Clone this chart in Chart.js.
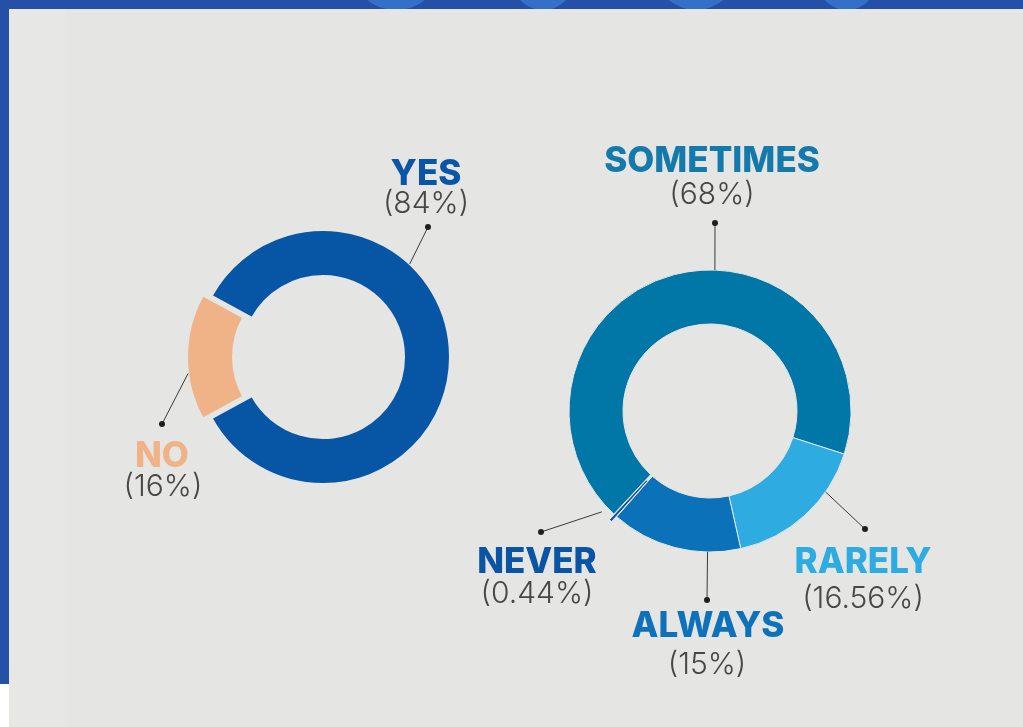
<!DOCTYPE html>
<html>
<head>
<meta charset="utf-8">
<script src="https://cdn.jsdelivr.net/npm/chart.js@4"></script>
<style>
  html, body { margin: 0; padding: 0; }
  body { width: 1023px; height: 727px; position: relative; overflow: hidden; background: #ffffff; }
  .panel { position: absolute; left: 9px; top: 0; width: 1014px; height: 727px; background: #e5e5e3; }
  .band { position: absolute; left: 9px; top: 0; width: 57px; height: 727px; background: #e7e7e6; }
  .topbar { position: absolute; left: 0; top: 0; width: 1023px; height: 9px; background: #2450a6; overflow: hidden; }
  .sidebar { position: absolute; left: 0; top: 0; width: 9px; height: 684px; background: #2450a6; }
  .dot { position: absolute; border-radius: 50%; background: #3470c8; }
  canvas { position: absolute; }
</style>
</head>
<body>
<div class="panel"></div>
<div class="band"></div>
<div class="sidebar"></div>
<div class="topbar">
  <div class="dot" style="left:349px; top:-84px; width:94px; height:94px;"></div>
  <div class="dot" style="left:512px; top:-52px; width:62px; height:62px;"></div>
  <div class="dot" style="left:650px; top:-92px; width:92px; height:102px;"></div>
  <div class="dot" style="left:815px; top:-60px; width:64px; height:70px;"></div>
</div>
<canvas id="answerChart" width="446" height="454" style="left:100px; top:130px;"></canvas>
<canvas id="freqChart" width="500" height="622" style="left:460px; top:100px;"></canvas>

<script>
// first question: yes / no
const answerLabels = ['YES', 'NO'];
const answerValues = [84, 16];
const answerColors = ['#0656a5', '#f0b287'];
const answerTextColors = ['#0a55a5', '#f0b287'];

// second question: how often
const freqLabels = ['SOMETIMES', 'RARELY', 'ALWAYS', 'NEVER'];
const freqValues = [68, 16.56, 15, 0.44];
const freqColors = ['#0177a7', '#2eace2', '#0b71b9', '#0c51a2'];
const freqTextColors = ['#147aab', '#2eace2', '#0d72b9', '#0a54a4'];

const bgColor = '#e5e5e3';
const titleFont = '800 35px Inter, "Open Sans", sans-serif';
const pctFont = '300 30px Inter, "Open Sans", sans-serif';

// how far chart.js actually pushes an arc out for a given offset option
function arcShift(arc) {
  const off = (arc.options.offset || 0) / 4;
  const fix = 1 - Math.sin(Math.min(Math.PI, arc.circumference || 0));
  return off * (1 + fix);
}

// leader line + dot + two-line label for every slice
const calloutPlugin = {
  id: 'callouts',
  afterDatasetsDraw(chart, args, opts) {
    const ctx = chart.ctx;
    const meta = chart.getDatasetMeta(0);
    const ds = chart.data.datasets[0];
    meta.data.forEach((arc, i) => {
      const item = opts.items[i];
      if (!item) return;
      const cx = arc.x, cy = arc.y;
      const a = item.angle * Math.PI / 180;
      const r = arc.outerRadius + arcShift(arc);
      const ax = cx + r * Math.sin(a);
      const ay = cy - r * Math.cos(a);
      const dx = cx + item.dot[0];
      const dy = cy + item.dot[1];

      ctx.save();
      ctx.strokeStyle = '#3a3a3a';
      ctx.lineWidth = 1;
      ctx.beginPath();
      ctx.moveTo(ax, ay);
      ctx.lineTo(dx, dy);
      ctx.stroke();
      ctx.fillStyle = '#1f1f1f';
      ctx.beginPath();
      ctx.arc(dx, dy, 3, 0, Math.PI * 2);
      ctx.fill();

      ctx.textAlign = 'center';
      ctx.textBaseline = 'alphabetic';
      ctx.font = titleFont;
      ctx.fillStyle = opts.textColors[i];
      ctx.fillText(chart.data.labels[i], cx + item.title[0], cy + item.title[1]);
      ctx.font = pctFont;
      ctx.fillStyle = '#474747';
      ctx.fillText('(' + ds.data[i] + '%)', cx + item.pct[0], cy + item.pct[1]);
      ctx.restore();
    });
  }
};

Chart.register(calloutPlugin);

const baseOptions = {
  responsive: false,
  animation: false,
  events: [],
  devicePixelRatio: 1
};

new Chart(document.getElementById('answerChart'), {
  type: 'doughnut',
  data: {
    labels: answerLabels,
    datasets: [{
      data: answerValues,
      backgroundColor: answerColors,
      borderColor: bgColor,
      borderWidth: 2,
      offset: [0, 31]
    }]
  },
  options: Object.assign({}, baseOptions, {
    radius: 127,
    cutout: '63.8%',
    rotation: -61.2,
    plugins: {
      legend: { display: false },
      tooltip: { enabled: false },
      callouts: {
        textColors: answerTextColors,
        items: [
          { angle: 43, dot: [105, -130], title: [103, -172], pct: [103, -144] },
          { angle: 263, dot: [-161, 67], title: [-161, 110], pct: [-160, 139] }
        ]
      }
    }
  })
});

new Chart(document.getElementById('freqChart'), {
  type: 'doughnut',
  data: {
    labels: freqLabels,
    datasets: [{
      data: freqValues,
      backgroundColor: freqColors,
      borderColor: bgColor,
      borderWidth: 1,
      offset: [0, 0, 0, 14]
    }]
  },
  options: Object.assign({}, baseOptions, {
    radius: 141,
    cutout: '61.7%',
    rotation: -137,
    plugins: {
      legend: { display: false },
      tooltip: { enabled: false },
      callouts: {
        textColors: freqTextColors,
        items: [
          { angle: 2, dot: [5, -188], title: [2, -239], pct: [2, -207] },
          { angle: 125, dot: [155, 118], title: [153, 162], pct: [153, 197] },
          { angle: 181, dot: [-3, 189], title: [-2, 226], pct: [-3, 263] },
          { angle: 227, dot: [-169, 121], title: [-173, 162], pct: [-173, 192] }
        ]
      }
    }
  })
});
</script>
</body>
</html>
